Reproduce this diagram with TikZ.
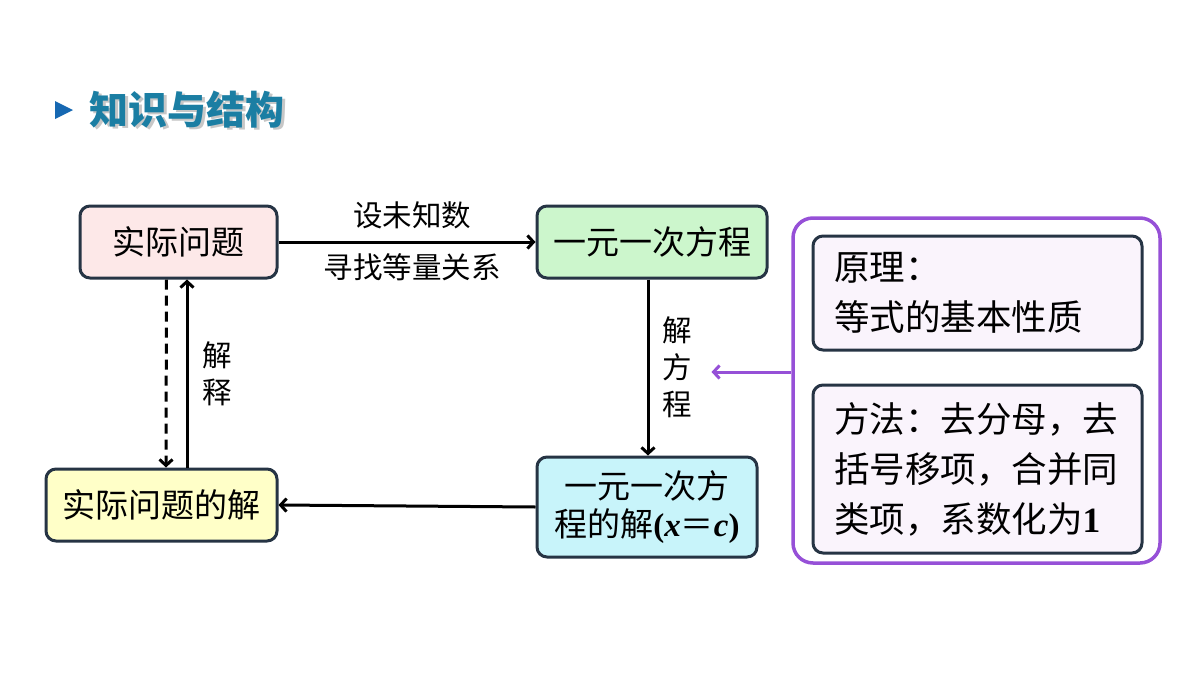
\documentclass[tikz,border=0pt]{standalone}
\usepackage{fontspec}
\setmainfont{Noto Sans CJK SC}
\newfontfamily\latinfont{Liberation Serif}
\usetikzlibrary{positioning,arrows.meta}
\definecolor{boxdraw}{RGB}{38,52,68}
\definecolor{pinkbg}{RGB}{253,232,232}
\definecolor{greenbg}{RGB}{204,246,204}
\definecolor{cyanbg}{RGB}{200,244,250}
\definecolor{yellowbg}{RGB}{255,255,200}
\definecolor{lilacbg}{RGB}{250,244,252}
\definecolor{framepurple}{RGB}{150,80,215}
\definecolor{titleteal}{RGB}{27,126,163}
\definecolor{titleblue}{RGB}{22,104,178}
\newcommand{\bigtext}{\fontsize{33}{38}\selectfont}
\newcommand{\infotext}{\fontsize{35.5}{50}\selectfont}
\newcommand{\labtext}{\fontsize{29.5}{37}\selectfont}

\begin{document}
\begin{tikzpicture}[x=1pt,y=-1pt,
    box/.style={draw=boxdraw,line width=3pt,rounded corners=10pt,align=center,font=\bigtext,inner sep=0pt},
    infobox/.style={box,fill=lilacbg,align=left,text width=287pt,minimum width=329pt,font=\infotext},
    lab/.style={font=\labtext,inner sep=0pt,align=center},
    link/.style={-{Straight Barb[length=6pt,width=13pt]},line width=3pt}]
  \useasboundingbox (0,0) rectangle (1200,675);
  % title
  \fill[titleblue] (55,101) -- (73,110) -- (55,119) -- cycle;
  \node[anchor=west,text=black!22,font=\fontsize{39}{40}\selectfont\bfseries] at (89,112) {知识与结构};
  \node[anchor=west,text=titleteal,font=\fontsize{39}{40}\selectfont\bfseries] (title) at (86,109.5) {知识与结构};
  % main boxes
  \node[box,fill=pinkbg,minimum width=197pt,minimum height=72pt] (prob) at (178.5,242) {实际问题};
  \node[box,fill=greenbg,minimum width=230pt,minimum height=72pt] (eqn) at (652,242) {一元一次方程};
  \node[box,fill=cyanbg,minimum width=220pt,minimum height=100pt] (root) at (647,507)
    {一元一次方\\程的解{\latinfont\bfseries(\textit{x}}＝{\latinfont\bfseries\textit{c})}};
  \node[box,fill=yellowbg,minimum width=231pt,minimum height=72pt] (ans) at (161.5,505) {实际问题的解};
  % method frame
  \node[draw=framepurple,line width=3.5pt,rounded corners=20pt,fill=white,minimum width=367pt,minimum height=345pt,inner sep=0pt] (frame) at (976.5,390.5) {};
  \node[infobox,minimum height=114pt] (rule) at (977.5,293) {原理：\\等式的基本性质};
  \node[infobox,minimum height=168pt] (how) at (977.5,469)
    {方法：去分母，去\\括号移项，合并同\\类项，系数化为{\latinfont\bfseries 1}};
  % connectors
  \draw[link] (prob.east) -- (eqn.west)
    node[lab,pos=0.52,above=12pt] (setx) {设未知数}
    node[lab,pos=0.52,below=10pt] (find) {寻找等量关系};
  \draw[link] ([xshift=-4pt]eqn.south) -- ([xshift=1pt]root.north)
    node[lab,midway,right=13pt] (solve) {解\\方\\程};
  \draw[link] (root.west) -- (ans.east);
  \draw[link,dashed,dash pattern=on 10pt off 6pt] ([xshift=-12pt]prob.south) -- ([xshift=4.5pt]ans.north);
  \draw[link] ([xshift=25.5pt]ans.north) -- ([xshift=8.5pt]prob.south)
    node[lab,midway,right=14pt] (explain) {解\\释};
  \draw[link,draw=framepurple] ([yshift=18.5pt]frame.west) -- ([yshift=18.5pt,xshift=18pt]frame.west -| solve.east);
\end{tikzpicture}
\end{document}
